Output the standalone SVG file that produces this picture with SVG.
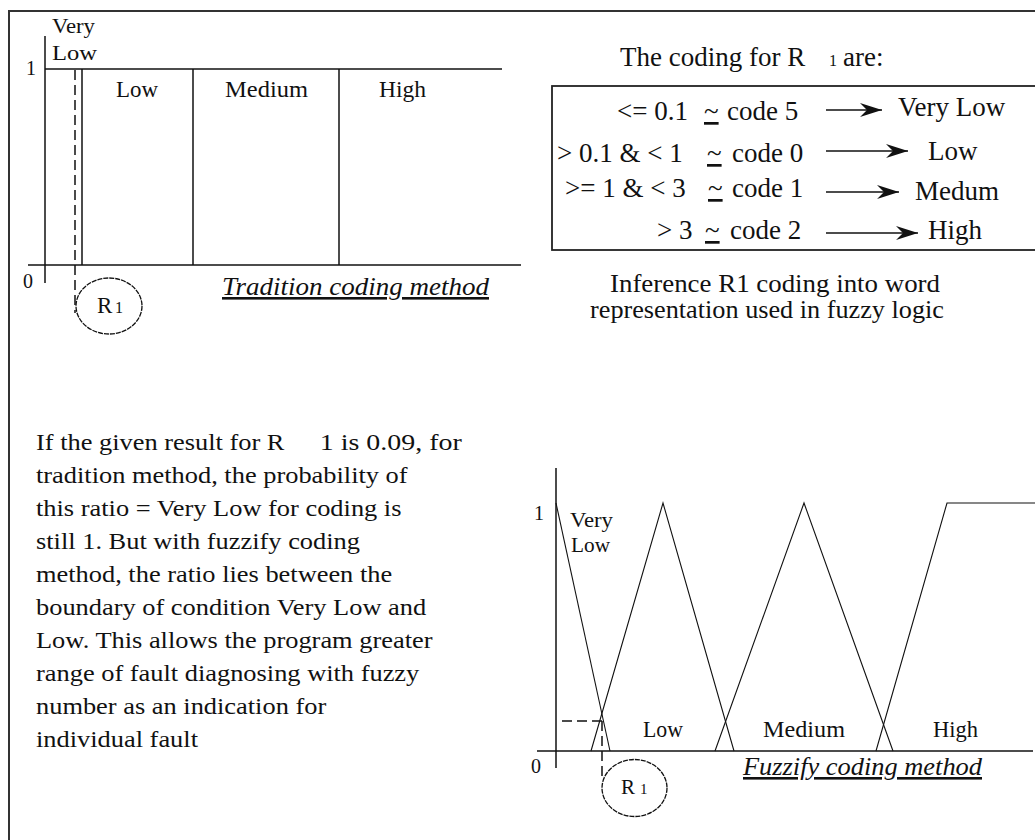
<svg xmlns="http://www.w3.org/2000/svg" width="1035" height="840" viewBox="0 0 1035 840">
<defs>
<style>
text{font-family:"Liberation Serif","Times New Roman",serif;fill:#111}
.ln{stroke:#111;stroke-width:1.5;fill:none}
.thin{stroke:#111;stroke-width:1.1;fill:none}
.dash{stroke:#111;stroke-width:1.5;fill:none;stroke-dasharray:10 5}
.circ{stroke:#111;stroke-width:1.3;fill:none;stroke-dasharray:5 1}
.lbl{font-size:23px}
.box{font-size:27px}
.cap{font-size:26px;font-style:italic;text-decoration:underline}
.para{font-size:24px}
.ax{font-size:20px}
</style>
<marker id="dart" viewBox="-24 -8 26 16" markerWidth="26" markerHeight="16" refX="0" refY="0" orient="auto" markerUnits="userSpaceOnUse">
<path d="M0,0 L-22,-7 L-15,0 L-22,7 Z" fill="#111"/>
</marker>
</defs>
<rect x="9" y="11" width="1040" height="840" fill="none" stroke="#333" stroke-width="2"/>

<g id="tradition-chart">
<line class="ln" x1="45" y1="36" x2="45" y2="283"/>
<line class="ln" x1="28" y1="265" x2="521" y2="265"/>
<line class="ln" x1="45" y1="69" x2="502" y2="69"/>
<line class="ln" x1="82" y1="69" x2="82" y2="265"/>
<line class="ln" x1="193" y1="69" x2="193" y2="265"/>
<line class="ln" x1="339" y1="69" x2="339" y2="265"/>
<line class="dash" x1="75" y1="70" x2="75" y2="313"/>
<text class="ax" x="26" y="75">1</text>
<text class="ax" x="23" y="288">0</text>
<text x="52" y="33" font-size="21" textLength="43" lengthAdjust="spacingAndGlyphs">Very</text>
<text x="52" y="60" font-size="21" textLength="45" lengthAdjust="spacingAndGlyphs">Low</text>
<text class="lbl" x="116" y="97" textLength="42" lengthAdjust="spacingAndGlyphs">Low</text>
<text class="lbl" x="225" y="97" textLength="83" lengthAdjust="spacingAndGlyphs">Medium</text>
<text class="lbl" x="379" y="97" textLength="47" lengthAdjust="spacingAndGlyphs">High</text>
<text class="cap" x="222" y="295" textLength="267" lengthAdjust="spacingAndGlyphs">Tradition coding method</text>
</g>

<g id="r1-top">
<ellipse class="circ" cx="109" cy="306" rx="33" ry="28"/>
<text x="97" y="313" font-size="23">R</text>
<text x="115" y="313" font-size="16">1</text>
</g>

<g id="coding-box">
<text class="box" x="620" y="66">The coding for R</text>
<text x="829" y="66" font-size="16">1</text>
<text class="box" x="843" y="66">are:</text>
<rect x="552" y="86" width="500" height="164" fill="none" stroke="#222" stroke-width="1.8"/>
<text class="box" x="617" y="120">&lt;= 0.1</text>
<text class="box" x="704" y="120" text-decoration="underline">~</text>
<text class="box" x="727" y="120">code 5</text>
<text class="box" x="898" y="116">Very Low</text>
<text class="box" x="557" y="162">&gt; 0.1 &amp; &lt; 1</text>
<text class="box" x="707" y="162" text-decoration="underline">~</text>
<text class="box" x="732" y="162">code 0</text>
<text class="box" x="928" y="160">Low</text>
<text class="box" x="565" y="197">&gt;= 1 &amp; &lt; 3</text>
<text class="box" x="708" y="197" text-decoration="underline">~</text>
<text class="box" x="732" y="197">code 1</text>
<text class="box" x="915" y="200">Medum</text>
<text class="box" x="657" y="239">&gt; 3</text>
<text class="box" x="705" y="239" text-decoration="underline">~</text>
<text class="box" x="730" y="239">code 2</text>
<text class="box" x="928" y="239">High</text>
<text x="610" y="292" font-size="25" textLength="330" lengthAdjust="spacingAndGlyphs">Inference R1 coding into word</text>
<text x="590" y="318" font-size="25" textLength="354" lengthAdjust="spacingAndGlyphs">representation used in fuzzy logic</text>
</g>

<g id="connectors">
<line class="ln" x1="826" y1="110" x2="882" y2="110" marker-end="url(#dart)"/>
<line class="ln" x1="826" y1="151" x2="908" y2="151" marker-end="url(#dart)"/>
<line class="ln" x1="826" y1="192" x2="899" y2="192" marker-end="url(#dart)"/>
<line class="ln" x1="826" y1="233" x2="918" y2="233" marker-end="url(#dart)"/>
</g>

<g id="explanation" transform="translate(36 0) scale(1.1 1)">
<text class="para" x="0" y="450">If the given result for R</text>
<text class="para" x="258" y="450" textLength="129" lengthAdjust="spacingAndGlyphs">1 is 0.09, for</text>
<text class="para" x="0" y="483">tradition method, the probability of</text>
<text class="para" x="0" y="516">this ratio = Very Low for coding is</text>
<text class="para" x="0" y="549">still 1. But with fuzzify coding</text>
<text class="para" x="0" y="582">method, the ratio lies between the</text>
<text class="para" x="0" y="615">boundary of condition Very Low and</text>
<text class="para" x="0" y="648">Low. This allows the program greater</text>
<text class="para" x="0" y="681">range of fault diagnosing with fuzzy</text>
<text class="para" x="0" y="714">number as an indication for</text>
<text class="para" x="0" y="747">individual fault</text>
</g>

<g id="fuzzify-chart">
<line class="ln" x1="556" y1="468" x2="556" y2="768"/>
<line class="ln" x1="537" y1="751" x2="1033" y2="751"/>
<polyline class="thin" points="556,503 610,751"/>
<polyline class="thin" points="591,751 663,503 734,751"/>
<polyline class="thin" points="715,751 804,503 893,751"/>
<polyline class="thin" points="876,751 947,503 1035,503"/>
<line class="dash" x1="562" y1="721" x2="602" y2="721"/>
<line class="dash" x1="602" y1="721" x2="602" y2="780"/>
<text class="ax" x="534" y="520">1</text>
<text class="ax" x="531" y="773">0</text>
<text x="570" y="527" font-size="21" textLength="43" lengthAdjust="spacingAndGlyphs">Very</text>
<text x="571" y="552" font-size="21" textLength="39" lengthAdjust="spacingAndGlyphs">Low</text>
<text class="lbl" x="643" y="737" textLength="40" lengthAdjust="spacingAndGlyphs">Low</text>
<text class="lbl" x="763" y="737" textLength="82" lengthAdjust="spacingAndGlyphs">Medium</text>
<text class="lbl" x="933" y="737" textLength="45" lengthAdjust="spacingAndGlyphs">High</text>
<text class="cap" x="743" y="775" textLength="239" lengthAdjust="spacingAndGlyphs">Fuzzify coding method</text>
</g>

<g id="r1-bottom">
<ellipse class="circ" cx="634.5" cy="788" rx="32.5" ry="28.5"/>
<text x="621" y="794" font-size="21">R</text>
<text x="640" y="794" font-size="15">1</text>
</g>
</svg>
